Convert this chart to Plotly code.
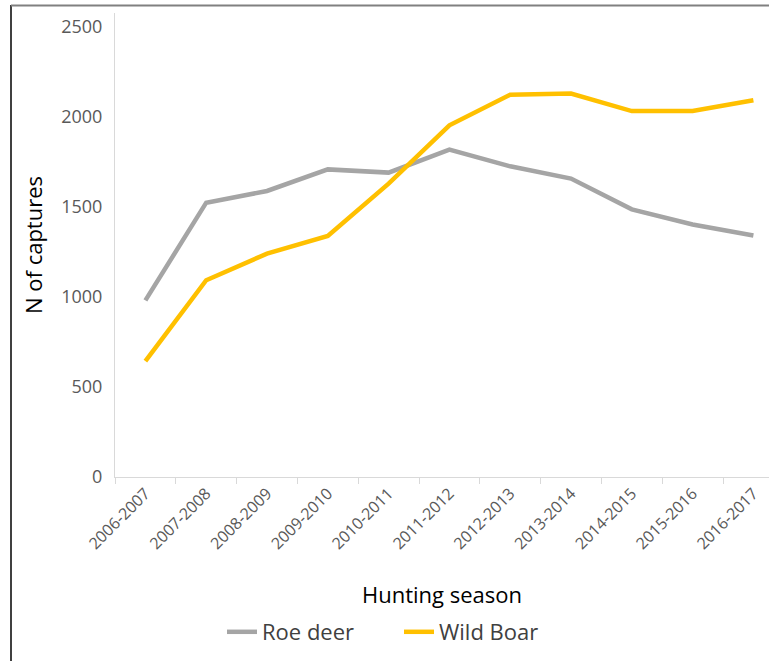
import plotly.graph_objects as go

seasons = ["2006-2007", "2007-2008", "2008-2009", "2009-2010", "2010-2011",
           "2011-2012", "2012-2013", "2013-2014", "2014-2015", "2015-2016", "2016-2017"]
roe_deer = [981, 1524, 1589, 1709, 1691, 1819, 1726, 1658, 1487, 1403, 1342]
wild_boar = [644, 1093, 1241, 1339, 1630, 1954, 2124, 2130, 2033, 2033, 2093]
y_ticks = [0, 500, 1000, 1500, 2000, 2500]

W, H = 769, 661
L, R, T, B = 115, 0, 13, 184
pw, ph = W - L - R, H - T - B

def px_x(x):
    return (x - L) / pw

def px_y(y):
    return (H - B - y) / ph

FONT = "Open Sans"

fig = go.Figure()
fig.add_trace(go.Scatter(x=seasons, y=roe_deer, mode="lines", name="Roe deer",
                         line=dict(color="#A5A5A5", width=4.5)))
fig.add_trace(go.Scatter(x=seasons, y=wild_boar, mode="lines", name="Wild Boar",
                         line=dict(color="#FFC000", width=4.5)))

fig.update_layout(
    width=W, height=H,
    margin=dict(l=L, r=R, t=T, b=B, autoexpand=False),
    paper_bgcolor="white", plot_bgcolor="white",
    font=dict(family=FONT, color="#595959"),
    showlegend=True,
    legend=dict(orientation="h", x=px_x(222), xanchor="left",
                y=px_y(632), yanchor="middle",
                font=dict(size=22, color="#404040", family=FONT),
                bgcolor="rgba(0,0,0,0)", itemwidth=30,
                entrywidth=132, entrywidthmode="pixels"),
    xaxis=dict(
        type="category", range=[-0.5, pw / 60.8 - 0.5],
        showline=True, linecolor="#D9D9D9", linewidth=1,
        ticks="outside", tickson="boundaries", ticklen=6, tickcolor="#D9D9D9",
        tickangle=-45, tickfont=dict(size=16, color="#595959", family=FONT),
        showgrid=False, zeroline=False, automargin=False,
        title=dict(text="Hunting season", font=dict(size=22, color="#000000", family=FONT),
                   standoff=34),
    ),
    yaxis=dict(
        range=[0, ph / 0.18], tickvals=y_ticks,
        showline=True, linecolor="#D9D9D9", linewidth=1,
        ticks="", ticklabelstandoff=8,
        tickfont=dict(size=18, color="#595959", family=FONT),
        showgrid=False, zeroline=False, automargin=False,
        title=dict(text="N of captures", font=dict(size=22, color="#000000", family=FONT),
                   standoff=12),
    ),
    shapes=[
        dict(type="line", xref="paper", yref="paper",
             x0=px_x(11), x1=px_x(11), y0=px_y(5), y1=px_y(661),
             line=dict(color="#000000", width=1.5)),
        dict(type="line", xref="paper", yref="paper",
             x0=px_x(11), x1=px_x(769), y0=px_y(5.5), y1=px_y(5.5),
             line=dict(color="#808080", width=2)),
    ],
)

fig.write_html("out.html", config={"displayModeBar": False},
               post_script="document.body.style.margin='0';document.body.style.overflow='hidden';")
